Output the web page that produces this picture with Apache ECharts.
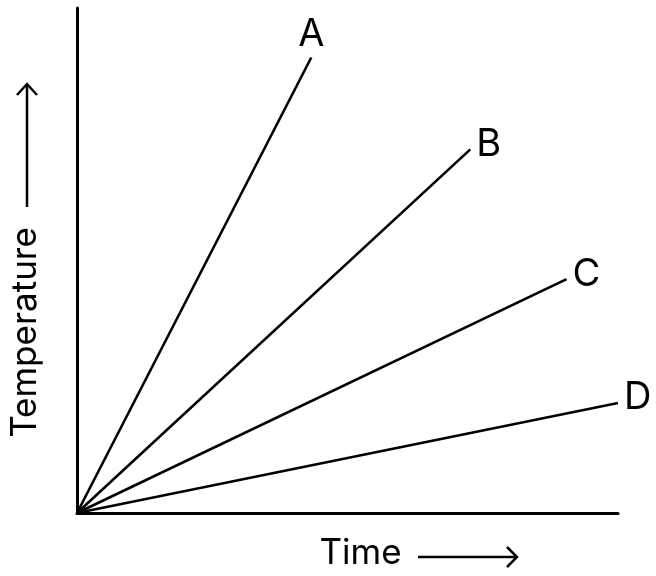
<!DOCTYPE html>
<html>
<head>
<meta charset="utf-8">
<script src="https://cdn.jsdelivr.net/npm/echarts@6/dist/echarts.min.js"></script>
<style>html,body{margin:0;padding:0;background:#fff}#c{width:656px;height:576px}</style>
</head>
<body>
<div id="c"></div>
<script>
// Line names and their end points (start at origin)
const seriesNames = ['A', 'B', 'C', 'D'];
const endX = [4.33, 7.27, 9.05, 10.0];
const endY = [9.02, 7.20, 4.63, 2.18];
const labelPos = ['top', 'right', 'right', 'right'];
const xName = 'Time';
const yName = 'Temperature';

const chart = echarts.init(document.getElementById('c'), null, {renderer: 'canvas'});
const font = 'Inter, "Noto Sans", sans-serif';

const series = seriesNames.map((n, i) => ({
  name: n,
  type: 'line',
  symbol: 'circle',
  symbolSize: 0,
  showSymbol: true,
  silent: true,
  itemStyle: {color: '#000'},
  lineStyle: {color: '#000', width: 2.6},
  data: [
    [0, 0],
    {value: [endX[i], endY[i]],
     label: {show: true, formatter: n, position: labelPos[i], distance: labelPos[i] === 'top' ? 4 : 6,
             offset: labelPos[i] === 'top' ? [0, 0] : [0, -5],
             color: '#000', fontSize: 38, fontFamily: font}}
  ]
}));

chart.setOption({
  animation: false,
  grid: {left: 75, right: 38, top: 8, bottom: 58},
  xAxis: {
    type: 'value', min: 0, max: 10,
    axisLine: {show: true, onZero: false, lineStyle: {color: '#000', width: 3}},
    axisTick: {show: false}, axisLabel: {show: false}, splitLine: {show: false},
    name: xName, nameLocation: 'middle', nameGap: 23,
    nameTextStyle: {color: '#000', fontSize: 35, fontFamily: font, padding: [0, 0, 0, 26]}
  },
  yAxis: {
    type: 'value', min: 0, max: 10,
    axisLine: {show: true, onZero: false, lineStyle: {color: '#000', width: 3}},
    axisTick: {show: false}, axisLabel: {show: false}, splitLine: {show: false},
    name: yName, nameLocation: 'middle', nameGap: 34,
    nameTextStyle: {color: '#000', fontSize: 35, fontFamily: font, padding: [0, 144, 0, 0]}
  },
  graphic: [
    {type: 'group', silent: true, children: [
      {type: 'line', shape: {x1: 27, y1: 207, x2: 27, y2: 85}, style: {stroke: '#000', lineWidth: 2.5}},
      {type: 'polyline', shape: {points: [[17, 95], [27, 84], [37, 95]]}, style: {stroke: '#000', lineWidth: 2.5, fill: null}},
      {type: 'line', shape: {x1: 418, y1: 557, x2: 516, y2: 557}, style: {stroke: '#000', lineWidth: 2.5}},
      {type: 'polyline', shape: {points: [[507, 547], [517, 557], [507, 567]]}, style: {stroke: '#000', lineWidth: 2.5, fill: null}}
    ]}
  ],
  series: series
});
</script>
</body>
</html>
